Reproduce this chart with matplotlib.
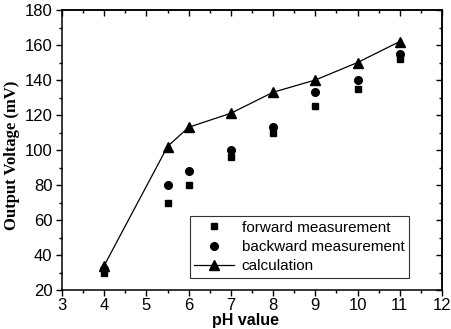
import matplotlib
matplotlib.use("Agg")
import matplotlib.pyplot as plt
from matplotlib.ticker import MultipleLocator, NullFormatter

ph = [4, 5.5, 6, 7, 8, 9, 10, 11]
forward = [30, 70, 80, 96, 110, 125, 135, 152]
backward = [32, 80, 88, 100, 113, 133, 140, 155]
calc = [34, 102, 113, 121, 133, 140, 150, 162]

fig = plt.figure(figsize=(4.51, 3.29), dpi=100)
ax = fig.add_axes([62/451, 1-290/329, (442-62)/451, (290-10)/329])

ax.plot(ph, forward, 's', color='black', ms=5, linestyle='none', label='forward measurement')
ax.plot(ph, backward, 'o', color='black', ms=5.5, linestyle='none', label='backward measurement')
ax.plot(ph, calc, '-^', color='black', ms=6.5, lw=0.9, label='calculation')

ax.set_xlim(3, 12)
ax.set_ylim(20, 180)
ax.xaxis.set_major_locator(MultipleLocator(1))
ax.xaxis.set_minor_locator(MultipleLocator(0.5))
ax.yaxis.set_major_locator(MultipleLocator(20))
ax.yaxis.set_minor_locator(MultipleLocator(10))
ax.tick_params(which='both', direction='out', width=1)
ax.tick_params(which='major', length=4, labelsize=12, pad=3)
ax.tick_params(axis='x', which='major', pad=1.5)
ax.tick_params(which='minor', length=2)
for lab in ax.get_xticklabels() + ax.get_yticklabels():
    lab.set_fontfamily('Liberation Sans')
for s in ax.spines.values():
    s.set_linewidth(1.1)

# top and right axes with inward ticks, no labels
top = ax.secondary_xaxis('top')
top.xaxis.set_major_locator(MultipleLocator(1))
top.xaxis.set_minor_locator(MultipleLocator(0.5))
top.xaxis.set_major_formatter(NullFormatter())
top.tick_params(which='both', direction='in', width=1)
top.tick_params(which='major', length=4)
top.tick_params(which='minor', length=2)
top.spines['top'].set_linewidth(1.1)
right = ax.secondary_yaxis('right')
right.yaxis.set_major_locator(MultipleLocator(20))
right.yaxis.set_minor_locator(MultipleLocator(10))
right.yaxis.set_major_formatter(NullFormatter())
right.tick_params(which='both', direction='in', width=1)
right.tick_params(which='major', length=4)
right.tick_params(which='minor', length=2)
right.spines['right'].set_linewidth(1.1)

ax.set_xlabel('pH value', fontfamily='Liberation Sans', fontweight='bold', fontsize=11.5)
ax.xaxis.set_label_coords((245.5-62)/(442-62), -(320.5-290)/280)
ax.xaxis.label.set_va('center')
ax.set_ylabel('Output Voltage (mV)', fontfamily='Liberation Serif', fontweight='bold', fontsize=12)
ax.yaxis.set_label_coords(-(62-12)/(442-62), (290-155)/280)
ax.yaxis.label.set_va('center')

leg = ax.legend(loc='lower right', bbox_to_anchor=(409/451, 1-278/329), bbox_transform=fig.transFigure,
                prop={'family': 'Liberation Sans', 'size': 11}, frameon=True, fancybox=False,
                edgecolor='black', handlelength=2.6, handletextpad=0.5, borderpad=0.3, labelspacing=0.35,
                borderaxespad=0)
leg.get_frame().set_linewidth(0.8)

fig.savefig('out.png', dpi=100)
